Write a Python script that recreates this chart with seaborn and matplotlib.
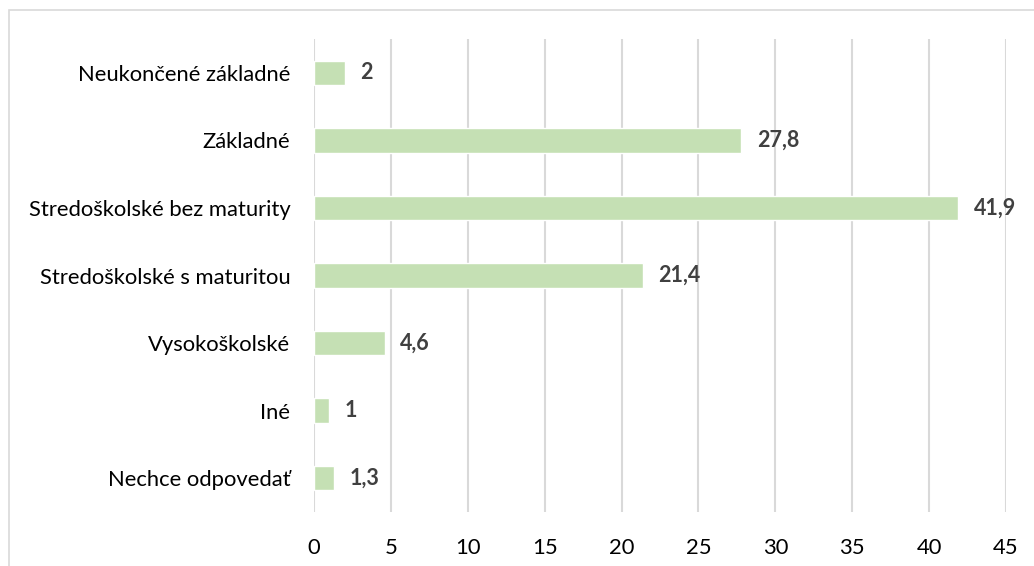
import pandas as pd
import seaborn as sns
import matplotlib.pyplot as plt
from matplotlib.patches import Rectangle

kategorie = [
    "Neukončené základné",
    "Základné",
    "Stredoškolské bez maturity",
    "Stredoškolské s maturitou",
    "Vysokoškolské",
    "Iné",
    "Nechce odpovedať",
]
hodnoty = [2, 27.8, 41.9, 21.4, 4.6, 1, 1.3]
x_ticky = [0, 5, 10, 15, 20, 25, 30, 35, 40, 45]

df = pd.DataFrame({"kategoria": kategorie, "hodnota": hodnoty})

sns.set_style("white")
plt.rcParams["font.family"] = ["Lato", "DejaVu Sans"]

fig = plt.figure(figsize=(10.34, 5.66), dpi=100)
ax = fig.add_axes([0.3037, 0.0958, 0.6692, 0.8349])

# ramček grafu
fig.patches.append(Rectangle((9 / 1034, -0.1), 1.2, 1 - 10 / 566 + 0.1,
                             transform=fig.transFigure, fill=False,
                             edgecolor="#D9D9D9", linewidth=1.2))

sns.barplot(data=df, x="hodnota", y="kategoria", orient="h", color="#C5E0B4",
            width=0.36, saturation=1, ax=ax, zorder=3)

for i, v in enumerate(hodnoty):
    txt = f"{v:g}".replace(".", ",")
    ax.text(v + 1.0, i, txt, va="center", ha="left", fontsize=15.5,
            fontweight="bold", color="#404040")

ax.set_xlim(0, 45)
ax.set_ylim(6.5, -0.5)
ax.set_xticks(x_ticky)
ax.grid(axis="x", color="#D9D9D9", linewidth=1.5, zorder=0)
ax.grid(axis="y", visible=False)
for s in ax.spines.values():
    s.set_visible(False)
ax.tick_params(axis="x", length=0, pad=19, labelsize=15.8, labelcolor="black")
ax.tick_params(axis="y", length=0, pad=17, labelsize=15.8, labelcolor="black")
ax.set_xlabel("")
ax.set_ylabel("")

fig.savefig("out.png", dpi=100)
plt.close(fig)
